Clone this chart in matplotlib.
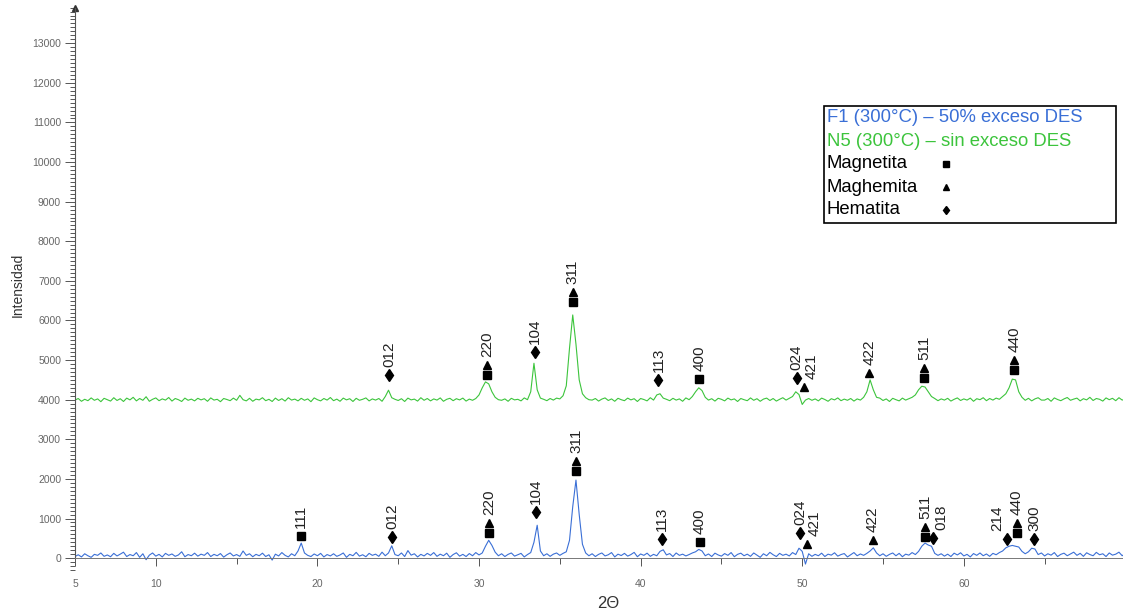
import numpy as np
import matplotlib
matplotlib.use("Agg")
import matplotlib.pyplot as plt
from matplotlib.transforms import offset_copy
from matplotlib.patches import Rectangle
from matplotlib.ticker import MultipleLocator, FixedLocator

plt.rcParams['font.family'] = ['Liberation Sans', 'DejaVu Sans']

# 2-theta grid, 0.2 deg step
two_theta = np.round(np.arange(5.0, 70.01, 0.2), 1)

# F1 (300C) - 50% exceso DES
blue_counts = [
    40, 85, 30, 110, 60, 20, 95, 70, 130, 45,
    80, 35, 120, 55, 100, 150, 40, 90, 60, 140,
    20, 110, -40, 75, 130, 50, 95, 30, 120, 70,
    105, 45, 80, 160, 35, 90, 60, 125, 50, 100,
    70, 140, 40, 95, 60, 115, 25, 85, 130, 55,
    90, 45, 180, 70, 110, 35, 95, 60, 125, 40,
    85, -50, 100, 55, 140, 70, 30, 110, 60, 180,
    380, 130, 70, 40, 105, 60, 120, 30, 90, 55,
    110, 45, 80, 130, 20, 95, 60, 145, 50, 85,
    35, 120, 70, 100, 45, 150, 60, 130, 310, 90,
    60, 130, 40, 190, 75, 110, 30, 95, 55, 120,
    70, 140, 45, 100, 60, 125, 20, 90, 135, 50,
    95, 40, 115, 60, 140, 80, 130, 300, 450, 320,
    150, 60, 110, 40, 95, 130, 50, 85, 120, 30,
    90, 140, 400, 830, 180, 60, 110, 45, 100, 130,
    70, 120, 160, 450, 1300, 1970, 1100, 350, 130, 60,
    110, 40, 95, 130, 55, 85, 140, 30, 100, 65,
    120, 50, 90, 145, 35, 105, 70, 125, 45, 95,
    60, 170, 210, 80, 115, 40, 130, 70, 100, 55,
    90, 130, 160, 220, 180, 60, 105, 40, 125, 80,
    50, 115, 70, 140, 35, 95, 125, 60, 100, 45,
    130, 75, 20, 110, 60, 145, 85, 40, 120, 70,
    100, 55, 140, 90, 250, 170, -150, 110, 45, 95,
    60, 125, 40, 100, 75, 135, 50, 90, 115, 30,
    85, 140, 60, 105, 70, 120, 180, 260, 130, 60,
    110, 45, 95, 130, 60, 120, 35, 100, 75, 140,
    90, 170, 300, 380, 330, 300, 120, 70, 110, 50,
    100, 40, 125, 80, 135, 55, 95, 30, 115, 70,
    130, 60, 105, 45, 120, 85, 140, 180, 260, 300,
    320, 300, 280, 170, 110, 160, 250, 230, 90, 130,
    55, 110, 75, 140, 40, 95, 125, 60, 105, 150,
    70, 120, 45, 135, 90, 60, 145, 85, 110, 40,
    130, 75, 100, 150, 60, 120,
]

# N5 (300C) - sin exceso DES
green_counts = [
    3990, 4030, 3960, 4010, 3975, 4045, 3985, 4020, 3950, 4035,
    4000, 3965, 4050, 3980, 4025, 3955, 4040, 3995, 4060, 3970,
    4030, 3985, 4075, 3960, 4010, 4045, 3975, 4020, 3990, 4055,
    3965, 4030, 4000, 3955, 4040, 3985, 4015, 3970, 4035, 3995,
    4025, 3960, 4045, 3990, 4010, 3950, 4030, 4005, 3975, 4040,
    3985, 4110, 4000, 3970, 4035, 3960, 4015, 3995, 4050, 3975,
    4010, 3955, 4040, 3980, 4025, 3965, 4050, 3990, 4015, 3970,
    4035, 3985, 4020, 3950, 4045, 4000, 3970, 4030, 3990, 4055,
    3975, 4015, 3960, 4040, 3995, 4025, 3955, 4035, 3985, 4010,
    4045, 3970, 4020, 3990, 4030, 3960, 4080, 4240, 4050, 4010,
    3980, 4025, 3955, 4040, 3995, 4015, 3965, 4050, 3985, 4030,
    3970, 4020, 3990, 4045, 3960, 4010, 4035, 3975, 4025, 3995,
    4040, 3965, 4015, 3985, 4030, 4120, 4300, 4450, 4400, 4200,
    4060, 4000, 3985, 4020, 3960, 4035, 3995, 4010, 3970, 4045,
    4000, 4200, 4920, 4250, 4040, 4010, 3975, 4030, 3990, 4040,
    4020, 4100, 4350, 5300, 6140, 5400, 4500, 4150, 4050, 4000,
    3990, 4030, 3965, 4015, 4045, 3980, 4020, 3960, 4035, 4000,
    3975, 4040, 3995, 4025, 3955, 4030, 4005, 3970, 4050, 3990,
    4120, 4150, 4040, 4010, 3975, 4035, 3990, 4020, 3960, 4045,
    4000, 4080, 4200, 4300, 4230, 4060, 3990, 4025, 3965, 4035,
    4010, 3970, 4040, 3995, 4020, 3955, 4030, 4000, 3975, 4045,
    3985, 4025, 3960, 4015, 4040, 3980, 4030, 3965, 4010, 4050,
    3990, 4035, 4080, 4200, 4130, 3880, 3990, 4030, 3985, 4020,
    3970, 4040, 4005, 3960, 4025, 3995, 4045, 3975, 4015, 3985,
    4030, 3965, 4020, 3990, 4060, 4200, 4500, 4250, 4060, 4040,
    3980, 4020, 3955, 4035, 4000, 3970, 4040, 3990, 4025, 4060,
    4120, 4250, 4340, 4320, 4200, 4080, 4030, 3975, 4020, 3990,
    4035, 3965, 4010, 4045, 3980, 4020, 3990, 4040, 3960, 4025,
    4000, 4050, 3975, 4030, 3990, 4040, 4010, 4080, 4150, 4300,
    4520, 4500, 4200, 4060, 3985, 4035, 3970, 4020, 4050, 3990,
    3990, 4030, 3960, 4045, 4005, 3975, 4020, 4055, 3985, 4015,
    4040, 3970, 4025, 3995, 4060, 3980, 4030, 4010, 3965, 4045,
    4000, 4035, 3975, 4050, 3990, 4020,
]

# peak identification: M = magnetita, G = maghemita, H = hematita (bottom to top)
blue_ref_pos = [18.99, 24.62, 30.62, 33.53, 36.0, 41.31, 43.68, 49.86, 50.30,
                54.38, 57.6, 58.09, 62.67, 63.29, 64.34]
blue_ref_y = [556, 530, 639, 1169, 2197, 480, 412, 631, 354,
              455, 538, 505, 480, 639, 480]
blue_ref_phase = ['M', 'H', 'MG', 'H', 'MG', 'H', 'M', 'H', 'G',
                  'G', 'MG', 'H', 'H', 'MG', 'H']
blue_ref_hkl = ['111', '012', '220', '104', '311', '113', '400', '024', '421',
                '422', '511', '018', '214', '440', '300']

green_ref_pos = [24.45, 30.52, 33.47, 35.8, 41.1, 43.63, 49.66, 50.11,
                 54.15, 57.54, 63.13]
green_ref_y = [4620, 4620, 5200, 6470, 4495, 4520, 4545, 4320,
               4670, 4545, 4750]
green_ref_phase = ['H', 'MG', 'H', 'MG', 'H', 'M', 'H', 'G',
                   'G', 'MG', 'MG']
green_ref_hkl = ['012', '220', '104', '311', '113', '400', '024', '421',
                 '422', '511', '440']

legend_series = ['F1 (300°C) – 50% exceso DES', 'N5 (300°C) – sin exceso DES']
legend_phases = ['Magnetita', 'Maghemita', 'Hematita']

blue = '#3a6fd6'
green = '#3cc43c'
axcol = '#555555'
markers = {'M': ('s', 5.5), 'G': ('^', 5.5), 'H': ('d', 6.5)}
label_dx = {'421': 8, '018': 8, '214': -10}

W, H = 1123, 614
fig = plt.figure(figsize=(W / 100, H / 100), dpi=100)
ax = fig.add_axes([75 / W, 1 - 570 / H, 1048 / W, 562.4 / H])

ax.plot(two_theta, green_counts, color=green, lw=0.8)
ax.plot(two_theta, blue_counts, color=blue, lw=0.8)


def mark_peaks(pos, ys, phases, hkls):
    for x, y, ph, hkl in zip(pos, ys, phases, hkls):
        for k, p in enumerate(ph):
            tr = offset_copy(ax.transData, fig=fig, y=10 * k, units='dots')
            m, s = markers[p]
            ax.plot([x], [y], marker=m, ms=s, color='black', ls='none',
                    transform=tr, zorder=5)
        top = 10 * (len(ph) - 1) + 8
        ax.annotate(hkl, (x, y), xytext=(label_dx.get(hkl, 0) * 0.72, top * 0.72),
                    textcoords='offset points', rotation=90, ha='center',
                    va='bottom', fontsize=11, color='#222222')


mark_peaks(blue_ref_pos, blue_ref_y, blue_ref_phase, blue_ref_hkl)
mark_peaks(green_ref_pos, green_ref_y, green_ref_phase, green_ref_hkl)

ax.set_xlim(5, 69.85)
ax.set_ylim(-300, 13900)

ax.spines['top'].set_visible(False)
ax.spines['right'].set_visible(False)
ax.spines['bottom'].set_position(('data', 0))
ax.spines['bottom'].set_color('#777777')
ax.spines['bottom'].set_linewidth(0.7)
ax.spines['left'].set_color(axcol)
ax.spines['left'].set_linewidth(0.8)
ax.spines['left'].set_bounds(0, 13900)

ax.xaxis.set_major_locator(FixedLocator([5, 10, 20, 30, 40, 50, 60]))
ax.xaxis.set_minor_locator(FixedLocator([15, 25, 35, 45, 55, 65]))
ax.yaxis.set_major_locator(MultipleLocator(1000))
ax.yaxis.set_minor_locator(MultipleLocator(100))
ax.set_yticks(np.arange(0, 13001, 1000))
ax.tick_params(axis='both', which='both', direction='out', colors=axcol,
               labelcolor='#666666', labelsize=7.5, width=0.7)
ax.tick_params(axis='x', which='major', length=6, pad=9)
ax.tick_params(axis='x', which='minor', length=4)
ax.tick_params(axis='y', which='major', length=7, pad=3)
ax.tick_params(axis='y', which='minor', length=3.5)

ax.plot([0], [1], marker='^', ms=4, color='#333333', transform=ax.transAxes,
        clip_on=False)

ax.set_xlabel('2Θ', fontsize=12, color='#333333', va='center')
ax.xaxis.set_label_coords((608 - 75) / 1048, (570 - 603) / 562.4)
ax.set_ylabel('Intensidad', fontsize=10, color='#333333', va='center')
ax.yaxis.set_label_coords((18 - 75) / 1048, (570 - 285) / 562.4)

# legend box drawn by hand (marker sits right after the phase name)
fig.patches.append(Rectangle((824 / W, 1 - 223 / H), 292 / W, 117 / H,
                             transform=fig.transFigure, fill=True,
                             facecolor='white', edgecolor='black', lw=1.2,
                             zorder=10))
rows_y = [117, 141, 164, 187, 210]
for txt, col, yy in zip(legend_series, [blue, green], rows_y[:2]):
    fig.text(827 / W, 1 - yy / H, txt, color=col, fontsize=13.3,
             ha='left', va='center', zorder=11)
for txt, key, yy in zip(legend_phases, ['M', 'G', 'H'], rows_y[2:]):
    fig.text(827 / W, 1 - yy / H, txt, color='black', fontsize=13.3,
             ha='left', va='center', zorder=11)
    m, s = markers[key]
    fig.add_artist(plt.Line2D([946 / W], [1 - yy / H], marker=m, ms=s * 0.7,
                              color='black', ls='none',
                              transform=fig.transFigure, zorder=11))

fig.savefig('out.png', dpi=100)
